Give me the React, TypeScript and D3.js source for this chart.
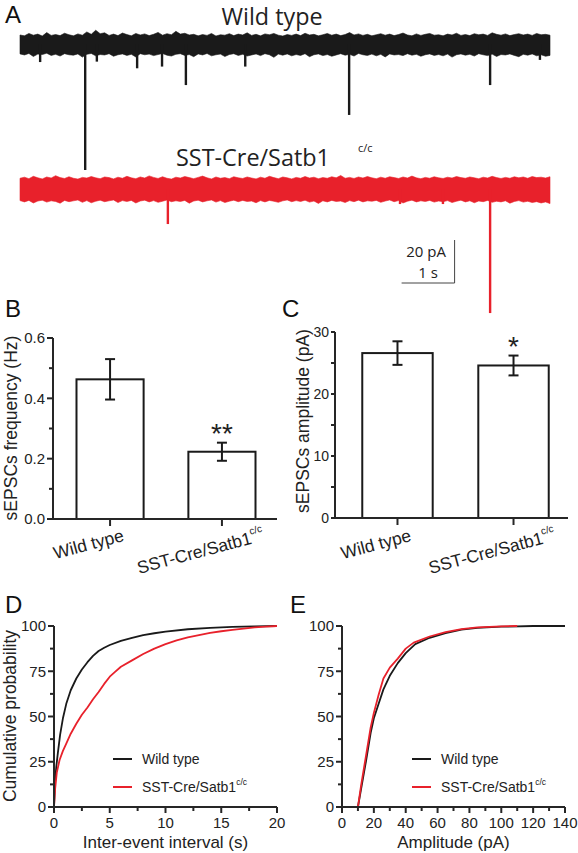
import React from 'react';
import * as d3 from 'd3';

const SANS = "'Liberation Sans', Arial, Helvetica, sans-serif";
const MYR = "'Open Sans', sans-serif";
const BLACK = '#1a1a1a';
const RED = '#e8212b';
const AXIS = '#262626';

// ---------------- Panel A (traces) ----------------
const traceSeconds = 10;
const wtUpper = [4.2,3.8,4.9,4.1,4.6,3.7,5.3,4.0,4.4,3.9,5.0,4.3,3.8,4.7,4.1,5.6,4.5,6.4,4.8,5.2,
  4.0,4.6,3.9,5.1,4.4,3.8,4.9,4.2,4.7,3.9,4.5,5.4,4.1,4.8,4.3,5.9,4.6,5.0,4.2,4.5,
  3.8,4.4,4.0,4.9,3.7,4.3,4.1,4.8,3.9,4.6,4.2,5.2,4.0,4.5,3.8,4.7,4.3,4.9,4.1,3.7,
  4.4,4.0,4.6,3.9,5.0,4.2,4.5,3.8,4.3,4.9,4.1,4.6,3.9,4.4,5.3,4.2,4.7,4.0,4.5,3.8,
  4.3,4.8,4.1,4.6,3.9,4.4,5.1,4.2,3.8,4.7,4.0,4.5,4.9,4.1,4.3,3.8,4.6,4.2,5.0,4.0,
  4.4,3.9,4.8,4.3,4.6,4.0,5.2,4.5,4.1,4.7,3.9,4.4,4.8,4.2,4.6,4.0,4.9,4.3,4.5,4.1];
const wtLower = [4.6,5.1,4.4,5.8,4.7,4.9,4.3,5.3,4.8,5.6,4.5,5.0,5.2,4.6,6.1,4.8,4.4,5.5,4.9,5.1,
  4.5,5.7,5.0,4.6,5.3,4.8,6.0,4.5,5.0,4.7,5.4,4.9,4.4,5.2,5.6,4.8,4.5,5.3,4.9,5.9,
  4.6,5.1,4.4,5.5,5.0,4.7,5.8,4.9,4.5,5.3,4.8,5.6,5.1,4.6,5.4,4.5,5.0,6.2,4.7,5.2,
  4.6,5.5,4.9,5.3,4.5,5.9,5.0,4.6,5.4,4.9,5.7,5.1,4.5,5.2,4.8,5.6,4.4,5.0,5.3,4.7,
  5.5,4.8,6.0,4.6,5.1,4.9,5.4,4.5,5.2,4.8,5.7,5.0,4.6,5.3,4.9,5.5,4.7,6.1,5.0,4.6,
  5.2,4.8,5.6,4.5,5.0,5.4,4.7,5.8,4.9,5.1,4.6,5.3,5.9,4.8,5.2,4.6,5.5,5.0,5.7,5.3];
const koUpper = [5.0,5.5,4.8,5.9,5.2,4.7,5.6,5.1,6.2,5.3,4.9,5.7,5.0,4.6,5.4,5.1,5.8,5.2,4.8,5.6,
  5.3,4.7,5.5,5.0,5.9,5.2,4.8,5.6,5.1,6.1,5.4,4.9,5.7,5.0,4.6,5.5,5.1,5.8,5.3,4.8,
  5.4,6.0,5.2,4.7,5.6,5.0,5.3,4.8,5.7,5.2,4.9,5.6,5.1,4.7,5.5,5.0,5.9,5.3,4.8,5.6,
  5.2,4.7,5.4,5.0,5.8,5.1,5.5,4.8,5.3,5.0,5.7,5.2,6.3,5.0,5.4,4.9,5.6,5.1,5.8,5.2,
  4.8,5.5,5.0,5.7,5.3,4.9,5.6,5.1,6.0,5.2,4.8,5.4,5.0,5.7,5.2,4.9,5.5,5.1,5.8,5.3,
  5.0,5.6,5.2,4.8,5.5,5.1,5.9,5.3,4.9,5.4,5.0,5.7,5.2,5.6,5.0,5.8,5.3,5.5,5.1,5.7];
const koLower = [5.4,6.0,5.3,6.5,5.6,5.2,6.1,5.5,5.8,6.6,5.3,5.9,5.5,5.1,6.2,5.4,6.4,5.7,5.2,5.9,
  5.5,5.1,6.3,5.4,5.8,5.3,6.5,5.6,5.2,6.0,5.4,6.2,5.7,5.1,5.9,5.5,5.8,5.3,6.6,5.6,
  5.2,6.0,5.5,5.1,6.1,5.4,6.3,5.7,5.2,5.9,5.3,5.8,5.6,6.4,5.4,6.0,5.3,5.7,6.2,5.5,
  5.1,5.9,5.4,5.8,5.2,6.1,5.6,6.7,5.5,6.0,5.3,5.8,5.6,6.3,5.4,5.9,5.2,6.0,5.5,5.7,
  5.3,6.2,5.6,5.1,5.9,5.4,6.5,5.7,5.2,6.0,5.5,5.8,5.3,6.1,5.6,5.9,5.4,6.3,5.7,5.2,
  6.0,5.5,6.4,5.6,5.9,5.3,6.2,5.7,6.0,5.5,6.6,5.8,5.4,6.1,5.7,6.3,5.9,6.5,6.0,6.8];
const wtEventTimes = [0.38, 1.23, 1.45, 2.21, 2.68, 3.13, 4.25, 6.21, 8.87, 9.81];
const wtEventAmps = [8.4, 58.6, 8.2, 11.3, 10.5, 19.1, 10.5, 33.0, 19.1, 7.4];
const koEventTimes = [2.79, 7.17, 7.98, 8.87];
const koEventAmps = [16.3, 7.0, 7.0, 57.7];
const scaleBarPA = 20;
const scaleBarS = 1;

// ---------------- Panels B, C ----------------
const groups = ['Wild type', 'SST-Cre/Satb1'];
const groupSup = ['', 'c/c'];
const freqMean = [0.463, 0.223];
const freqErr = [0.067, 0.030];
const freqStars = ['', '**'];
const freqTicks = [0, 0.2, 0.4, 0.6];
const freqMinor = [0.1, 0.3, 0.5];
const ampMean = [26.6, 24.6];
const ampErr = [1.9, 1.6];
const ampStars = ['', '*'];
const ampTicks = [0, 10, 20, 30];
const ampMinor = [5, 15, 25];

// ---------------- Panel D ----------------
const ieiWtX = [0, 0.1, 0.2, 0.35, 0.55, 0.8, 1.1, 1.5, 2.0, 2.5, 3.0, 3.5, 4.0, 4.5, 5.0, 6.0, 7.0, 8.0, 9.0, 10, 12, 14, 16, 18, 20];
const ieiWtY = [0, 14, 22, 30, 40, 49, 57, 64.5, 71, 76, 80, 83.5, 86.2, 88, 89.5, 91.8, 93.5, 95, 96, 96.9, 98.2, 99, 99.5, 99.8, 100];
const ieiKoX = [0, 0.1, 0.25, 0.5, 0.8, 1.1, 1.5, 2.0, 2.5, 3.0, 3.5, 4.0, 4.5, 5.0, 5.5, 6.0, 7.0, 8.0, 9.0, 10, 11, 12, 13, 14, 15, 16, 17, 18, 19, 20];
const ieiKoY = [0, 10, 19, 26, 31, 35, 40.5, 46, 51, 55, 59.5, 63.5, 68, 72, 74.8, 77.5, 81, 84.5, 87.5, 90, 92, 93.7, 95, 96.2, 97.1, 97.9, 98.6, 99.2, 99.7, 100];
const ieiTicks = [0, 5, 10, 15, 20];
const ieiMinor = [2.5, 7.5, 12.5, 17.5];
const probTicks = [0, 25, 50, 75, 100];
const probMinor = [12.5, 37.5, 62.5, 87.5];

// ---------------- Panel E ----------------
const ampWtX = [10, 12, 15, 18, 20, 23, 26, 30, 35, 40, 46, 55, 65, 75, 85, 100, 120, 140];
const ampWtY = [0, 10, 25, 41, 49, 57, 65, 72.5, 79.5, 85, 90, 93.5, 96, 98, 99, 99.6, 100, 100];
const ampKoX = [10, 12, 15, 18, 20, 23, 26, 30, 35, 40, 45, 55, 65, 75, 85, 100, 110];
const ampKoY = [0, 12, 28, 44, 52, 62, 71, 77, 82, 87.5, 90.8, 94.2, 96.6, 98.3, 99.2, 99.8, 100];
const ampETicks = [0, 20, 40, 60, 80, 100, 120, 140];
const ampEMinor = [10, 30, 50, 70, 90, 110, 130];

const legendNames = ['Wild type', 'SST-Cre/Satb1'];
const legendSup = ['', 'c/c'];
const seriesColors = [BLACK, RED];

function YAxis({ x, y, ticks, minor, fmt, fs = 15, tick = 6 }: any) {
  const [d0, d1] = y.domain();
  return (
    <g>
      <line x1={x} x2={x} y1={y(d0) + 1} y2={y(d1)} stroke={AXIS} strokeWidth={2} />
      {ticks.map((v: number) => (
        <g key={'t' + v}>
          <line x1={x - tick} x2={x} y1={y(v)} y2={y(v)} stroke={AXIS} strokeWidth={2} />
          <text x={x - tick - 2} y={y(v)} dy="0.36em" textAnchor="end" fontSize={fs} fontFamily={SANS} fill="#222">{fmt(v)}</text>
        </g>
      ))}
      {minor.map((v: number) => (
        <line key={'m' + v} x1={x - 4} x2={x} y1={y(v)} y2={y(v)} stroke={AXIS} strokeWidth={2} />
      ))}
    </g>
  );
}

function XAxis({ y, x, ticks, minor, fmt, fs = 15 }: any) {
  const [d0, d1] = x.domain();
  return (
    <g>
      <line x1={x(d0) - 1} x2={x(d1)} y1={y} y2={y} stroke={AXIS} strokeWidth={2} />
      {ticks.map((v: number) => (
        <g key={'t' + v}>
          <line x1={x(v)} x2={x(v)} y1={y} y2={y + 6} stroke={AXIS} strokeWidth={2} />
          <text x={x(v)} y={y + 21} textAnchor="middle" fontSize={fs} fontFamily={SANS} fill="#222">{fmt(v)}</text>
        </g>
      ))}
      {minor.map((v: number) => (
        <line key={'m' + v} x1={x(v)} x2={x(v)} y1={y} y2={y + 4} stroke={AXIS} strokeWidth={2} />
      ))}
    </g>
  );
}

function BarPanel({ x, y, means, errs, stars, ticks, minor, fmt, axisEnd, title, titleX, titleY, labelY, tickFs = 15, tickLen = 6 }: any) {
  const y0 = y(0);
  const bw = x.bandwidth();
  return (
    <g>
      {groups.map((g, i) => {
        const cx = (x(g) as number) + bw / 2;
        return (
          <g key={g}>
            <rect x={x(g)} y={y(means[i])} width={bw} height={y0 - y(means[i])} fill="#fff" stroke={BLACK} strokeWidth={2} />
            <line x1={cx} x2={cx} y1={y(means[i] - errs[i])} y2={y(means[i] + errs[i])} stroke={BLACK} strokeWidth={2} />
            <line x1={cx - 5} x2={cx + 5} y1={y(means[i] - errs[i])} y2={y(means[i] - errs[i])} stroke={BLACK} strokeWidth={2} />
            <line x1={cx - 5} x2={cx + 5} y1={y(means[i] + errs[i])} y2={y(means[i] + errs[i])} stroke={BLACK} strokeWidth={2} />
            {stars[i] && (
              <text x={cx} y={y(means[i] + errs[i])} textAnchor="middle" fontSize={28} fontFamily={SANS} fill="#222">{stars[i]}</text>
            )}
            <line x1={cx} x2={cx} y1={y0} y2={y0 + 7} stroke={AXIS} strokeWidth={2} />
            <text transform={`translate(${cx - 20},${labelY[i]}) rotate(-15)`} textAnchor="middle" fontSize={17.5} fontFamily={SANS} fill="#222">
              {g}
              {groupSup[i] && <tspan dy={-9} fontSize={10}>{groupSup[i]}</tspan>}
            </text>
          </g>
        );
      })}
      <line x1={x.range()[0]} x2={axisEnd} y1={y0} y2={y0} stroke={AXIS} strokeWidth={2} />
      <YAxis x={x.range()[0]} y={y} ticks={ticks} minor={minor} fmt={fmt} fs={tickFs} tick={tickLen} />
      <text transform={`translate(${titleX},${titleY}) rotate(-90)`} textAnchor="middle" fontSize={17.5} fontFamily={SANS} fill="#222">{title}</text>
    </g>
  );
}

function CdfPanel({ x, y, xsList, ysList, xTicks, xMinor, title, legendX }: any) {
  const line = d3.line<[number, number]>().x(d => x(d[0])).y(d => y(d[1]));
  return (
    <g>
      {xsList.map((xs: number[], k: number) => (
        <path key={k} d={line(xs.map((v, i) => [v, ysList[k][i]]) as any) as string} fill="none" stroke={seriesColors[k]} strokeWidth={1.8} strokeLinejoin="round" />
      ))}
      <XAxis y={y(0)} x={x} ticks={xTicks} minor={xMinor} fmt={d3.format('d')} />
      <YAxis x={x.range()[0]} y={y} ticks={probTicks} minor={probMinor} fmt={d3.format('d')} />
      <text x={(x.range()[0] + x.range()[1]) / 2} y={848} textAnchor="middle" fontSize={17} fontFamily={SANS} fill="#222">{title}</text>
      {legendNames.map((n, i) => (
        <g key={n}>
          <line x1={legendX} x2={legendX + 19} y1={759 + i * 28} y2={759 + i * 28} stroke={seriesColors[i]} strokeWidth={2} />
          <text x={legendX + 29} y={759 + i * 28} dy="0.35em" fontSize={14} fontFamily={SANS} fill="#222">
            {n}
            {legendSup[i] && <tspan dy={-7} fontSize={8.5}>{legendSup[i]}</tspan>}
          </text>
        </g>
      ))}
    </g>
  );
}

export default function App() {
  // Panel A scales
  const tx = d3.scaleLinear().domain([0, traceSeconds]).range([20, 550]);
  const wtY = d3.scaleLinear().domain([0, 20]).range([44, 1]);
  const koY = d3.scaleLinear().domain([0, 20]).range([189, 146]);
  const band = (up: number[], lo: number[], ys: any) =>
    d3.area<number>()
      .x((_, i) => tx((i * traceSeconds) / (up.length - 1)))
      .y1((_, i) => ys(up[i]))
      .y0((_, i) => ys(-lo[i]))(up) as string;

  const sbBottom = 283;
  const sbX1 = tx(8.2);
  const sbX0 = tx(8.2 - scaleBarS);
  const sbTop = sbBottom - (wtY(0) - wtY(scaleBarPA));

  // Panel B, C scales
  const bx = d3.scaleBand().domain(groups).range([53, 279]).paddingInner(0.4).paddingOuter(0.21);
  const by = d3.scaleLinear().domain([0, 0.6]).range([519, 338]);
  const cx = d3.scaleBand().domain(groups).range([335, 576]).paddingInner(0.393).paddingOuter(0.235);
  const cy = d3.scaleLinear().domain([0, 30]).range([518, 332]);

  // Panel D, E scales
  const dx = d3.scaleLinear().domain([0, 20]).range([54, 277]);
  const dy = d3.scaleLinear().domain([0, 100]).range([807, 626]);
  const ex = d3.scaleLinear().domain([0, 140]).range([342, 565]);
  const ey = d3.scaleLinear().domain([0, 100]).range([807, 626]);

  return (
    <svg width={578} height={853} style={{ position: 'absolute', left: 0, top: 0, background: '#fff' }}>
      <rect width={578} height={853} fill="#fff" />
      {[['A', 5, 23], ['B', 5, 317], ['C', 282, 317], ['D', 5, 613], ['E', 290, 613]].map(([l, x, y]: any) => (
        <text key={l} x={x} y={y} fontSize={24} fontFamily={SANS} fill="#111">{l}</text>
      ))}

      {/* Panel A */}
      <text x={272} y={25} textAnchor="middle" fontSize={23} fontFamily={MYR} fill="#222" textLength={101} lengthAdjust="spacingAndGlyphs">Wild type</text>
      <path d={band(wtUpper, wtLower, wtY)} fill={BLACK} stroke={BLACK} strokeWidth={0.6} />
      {wtEventTimes.map((t, i) => (
        <line key={i} x1={tx(t)} x2={tx(t)} y1={wtY(0)} y2={wtY(-wtEventAmps[i])} stroke={BLACK} strokeWidth={2.4} />
      ))}
      <text x={176} y={166} fontSize={24} fontFamily={MYR} fill="#222" textLength={154} lengthAdjust="spacingAndGlyphs">SST-Cre/Satb1</text>
      <text x={358} y={152} fontSize={11} fontFamily={MYR} fill="#222">c/c</text>
      <path d={band(koUpper, koLower, koY)} fill={RED} stroke={RED} strokeWidth={0.6} />
      {koEventTimes.map((t, i) => (
        <line key={i} x1={tx(t)} x2={tx(t)} y1={koY(0)} y2={koY(-koEventAmps[i])} stroke={RED} strokeWidth={2.4} />
      ))}
      <line x1={sbX1} x2={sbX1} y1={sbTop} y2={sbBottom} stroke="#444" strokeWidth={1} />
      <line x1={sbX0} x2={sbX1} y1={sbBottom} y2={sbBottom} stroke="#444" strokeWidth={1} />
      <text x={(sbX0 + sbX1) / 2 - 2} y={257} textAnchor="middle" fontSize={15} fontFamily={MYR} fill="#222">{scaleBarPA} pA</text>
      <text x={(sbX0 + sbX1) / 2} y={278} textAnchor="middle" fontSize={15} fontFamily={MYR} fill="#222">{scaleBarS} s</text>

      {/* Panel B */}
      <BarPanel x={bx} y={by} means={freqMean} errs={freqErr} stars={freqStars} ticks={freqTicks} minor={freqMinor}
        fmt={d3.format('.1f')} axisEnd={277} title="sEPSCs frequency (Hz)" titleX={17} titleY={428} labelY={[550, 557]} />
      {/* Panel C */}
      <BarPanel x={cx} y={cy} means={ampMean} errs={ampErr} stars={ampStars} ticks={ampTicks} minor={ampMinor}
        fmt={d3.format('d')} axisEnd={568} title="sEPSCs amplitude (pA)" titleX={309} titleY={421} labelY={[550, 557]}
        tickFs={14} tickLen={4} />

      {/* Panel D */}
      <CdfPanel x={dx} y={dy} xsList={[ieiWtX, ieiKoX]} ysList={[ieiWtY, ieiKoY]} xTicks={ieiTicks} xMinor={ieiMinor}
        title="Inter-event interval (s)" legendX={113} />
      <text transform="translate(16,716) rotate(-90)" textAnchor="middle" fontSize={17.5} fontFamily={SANS} fill="#222">Cumulative probability</text>
      {/* Panel E */}
      <CdfPanel x={ex} y={ey} xsList={[ampWtX, ampKoX]} ysList={[ampWtY, ampKoY]} xTicks={ampETicks} xMinor={ampEMinor}
        title="Amplitude (pA)" legendX={412} />
    </svg>
  );
}
